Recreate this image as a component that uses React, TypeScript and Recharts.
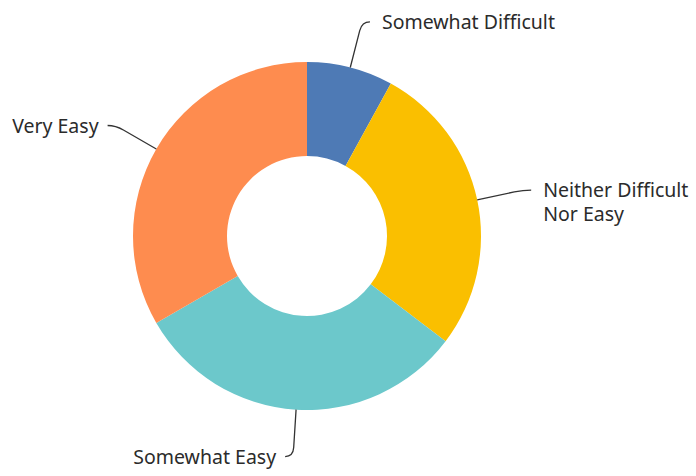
import { Cell, Pie, PieChart } from "recharts";

const categories = ["Somewhat Difficult", "Neither Difficult Nor Easy", "Somewhat Easy", "Very Easy"];
const counts = [12, 41, 47, 50];
const labelLines = [["Somewhat Difficult"], ["Neither Difficult", "Nor Easy"], ["Somewhat Easy"], ["Very Easy"]];
const colors = ["#4e7ab5", "#fabf00", "#6cc8cb", "#fe8c4f"];

const data = categories.map((name, i) => ({ name, value: counts[i], idx: i }));

const RAD = Math.PI / 180;

function renderLabel(props: any) {
  const { cx, cy, midAngle, outerRadius, index } = props;
  const cos = Math.cos(-midAngle * RAD);
  const sin = Math.sin(-midAngle * RAD);
  const at = (r: number) => [cx + r * cos, cy + r * sin];
  const [sx, sy] = at(outerRadius);
  const [ax, ay] = at(outerRadius + 38);
  const [mx, my] = at(outerRadius + 47);
  const right = cos >= 0;
  const ex = mx + (right ? 8 : -8);
  const ey = my;
  const tx = ex + (right ? 12 : -9);
  const lines = labelLines[index];
  const lineH = 23.5;
  return (
    <g>
      <path
        d={`M${sx},${sy} L${ax},${ay} Q${mx},${my} ${ex},${ey}`}
        stroke="#333"
        strokeWidth={1.3}
        fill="none"
      />
      <text
        x={tx}
        y={ey}
        textAnchor={right ? "start" : "end"}
        fill="#2b2b2b"
        fontSize={19.5}
        fontFamily="'Noto Sans', sans-serif"
      >
        {lines.map((l, i) => (
          <tspan key={i} x={tx} dy={i === 0 ? 7 : lineH}>
            {l}
          </tspan>
        ))}
      </text>
    </g>
  );
}

export default function App() {
  return (
    <div style={{ position: "absolute", left: 0, top: 0 }}>
      <PieChart width={696} height={476} margin={{ top: 0, right: 0, bottom: 0, left: 0 }}>
        <Pie
          data={data}
          dataKey="value"
          nameKey="name"
          cx={307}
          cy={236}
          innerRadius={80}
          outerRadius={174}
          startAngle={90}
          endAngle={-270}
          stroke="none"
          label={renderLabel}
          labelLine={false}
          isAnimationActive={false}
        >
          {data.map((d, i) => (
            <Cell key={d.name} fill={colors[i]} />
          ))}
        </Pie>
      </PieChart>
    </div>
  );
}
